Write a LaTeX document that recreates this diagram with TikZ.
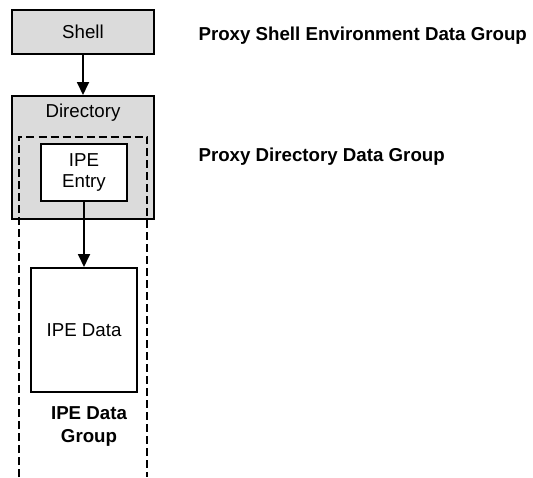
\documentclass[tikz,border=0pt]{standalone}
\usepackage{fontspec}
\setmainfont{Liberation Sans}
\usepackage{tikz}
\usetikzlibrary{arrows.meta}

\begin{document}
\begin{tikzpicture}[x=1pt, y=-1pt,
	every node/.style={font=\fontsize{18.7}{21.5}\selectfont},
	box/.style={draw, line width=2pt, fill=white, inner sep=0pt, align=center},
	greybox/.style={box, fill=black!14},
	grouplabel/.style={font=\fontsize{18.7}{23}\selectfont\bfseries, align=center},
	link/.style={line width=1.8pt, -{Triangle[length=13pt, width=12pt]}}]

\useasboundingbox (0,0) rectangle (533,477);

% coordinates %{{{2

	\coordinate (S) at (83,32);
	\coordinate (D) at (83,157.5);
	\coordinate (E) at (84,172.5);
	\coordinate (P) at (84,330);

	% corners of the open dashed group
	\coordinate (G1) at (19,477);
	\coordinate (G2) at (19,136.5);
	\coordinate (G3) at (147,136.5);
	\coordinate (G4) at (147,477);

% boxes %{{{2

	\node[greybox, minimum width=142, minimum height=44] (shell) at (S) {Shell};

	\node[greybox, minimum width=142, minimum height=123] (dir) at (D) {};
	\node (dirtext) at (83,113) {Directory};

	% dashed group, open at the bottom
	\draw[line width=2pt, dash pattern=on 8pt off 4pt] (G1) -- (G2) -- (G3) -- (G4);

	\node[box, minimum width=86, minimum height=57] (entry) at (E) {IPE\\Entry};

	\node[box, minimum width=106, minimum height=124] (data) at (P) {IPE Data};

% links %{{{2

	\draw[link] (shell) -- (dir);
	\draw[link] (entry) -- (data);

% group labels %{{{2

	\node[grouplabel] (datagroup) at (89,426.5) {IPE Data\\Group};

	\node[grouplabel, anchor=west] (shellgroup) at (195,36) {Proxy Shell Environment Data Group};
	\node[grouplabel, anchor=west] (dirgroup) at (195,157) {Proxy Directory Data Group};

% closing %{{{2

\end{tikzpicture}
\end{document}
